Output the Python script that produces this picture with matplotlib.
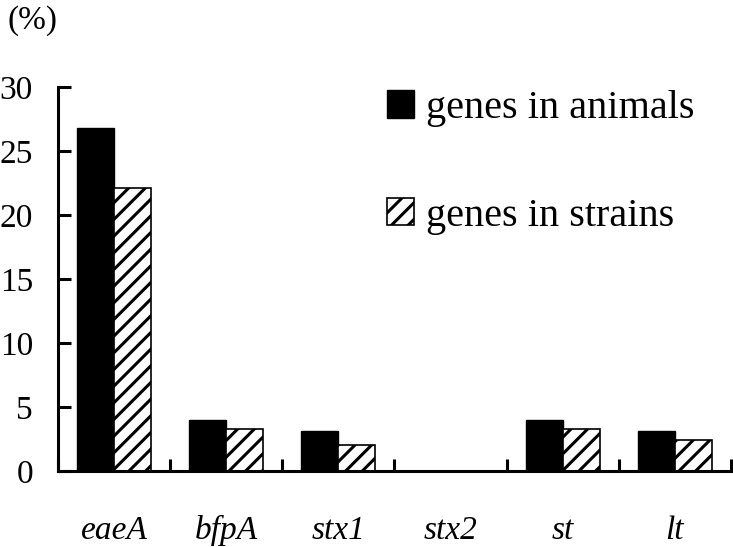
import numpy as np
import matplotlib
matplotlib.use("Agg")
import matplotlib.pyplot as plt

genes = ['eaeA', 'bfpA', 'stx1', 'stx2', 'st', 'lt']
animals = [26.8, 4.0, 3.1, 0.0, 4.0, 3.1]
strains = [22.1, 3.3, 2.0, 0.0, 3.3, 2.4]

plt.rcParams['font.family'] = ['Liberation Serif', 'DejaVu Serif']
plt.rcParams['hatch.linewidth'] = 2.2

fig = plt.figure(figsize=(7.33, 5.47), dpi=100)
ax = fig.add_axes([0.079, 0.139, 0.918, 0.702])

x = np.arange(len(genes))
w = 0.33
ax.bar(x - w / 2, animals, w, color='black', edgecolor='black', linewidth=1,
       label='genes in animals')
ax.bar(x + w / 2, strains, w, color='white', edgecolor='black', linewidth=1.2,
       hatch='//', label='genes in strains')

ax.set_xlim(-0.5, len(genes) - 0.5)
ax.set_ylim(0, 30)
ax.set_yticks([0, 5, 10, 15, 20, 25, 30])

# boundary ticks without labels, labels on minor ticks at centres
ax.set_xticks(np.arange(len(genes) + 1) - 0.5)
ax.set_xticklabels([])
ax.set_xticks(x, minor=True)
ax.set_xticklabels(genes, minor=True, style='italic', fontsize=24)
ax.tick_params(axis='x', which='major', direction='in', length=9, width=2.2)
ax.tick_params(axis='x', which='minor', length=0, pad=32)
ax.tick_params(axis='y', direction='in', length=9, width=2.2, labelsize=24, pad=18)

for s in ['top', 'right']:
    ax.spines[s].set_visible(False)
for s in ['left', 'bottom']:
    ax.spines[s].set_linewidth(2.2)

fig.text(0.01, 0.99, '(%)', fontsize=24, ha='left', va='top')

fig.legend(loc='upper left', bbox_to_anchor=(0.528, 0.835), frameon=False,
           fontsize=29, handlelength=0.67, handleheight=0.67, handletextpad=0.3,
           labelspacing=1.75, borderpad=0, borderaxespad=0)

fig.savefig('out.png', dpi=100)
